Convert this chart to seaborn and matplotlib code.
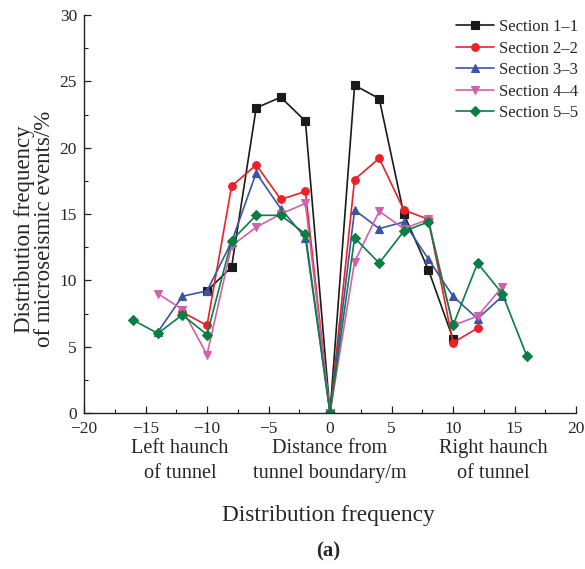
import matplotlib
matplotlib.use("Agg")
import matplotlib.pyplot as plt
import seaborn as sns
import pandas as pd
import numpy as np
from matplotlib.ticker import MultipleLocator

sns.set_style("ticks")
plt.rcParams['font.family'] = ['Liberation Serif', 'DejaVu Serif']

sections = ["Section 1\u20131", "Section 2\u20132", "Section 3\u20133", "Section 4\u20134", "Section 5\u20135"]

x1 = [-10, -8, -6, -4, -2, 0, 2, 4, 6, 8, 10]
y1 = [9.2, 11.0, 23.0, 23.8, 22.0, 0, 24.7, 23.7, 15.0, 10.8, 5.6]

x2 = [-12, -10, -8, -6, -4, -2, 0, 2, 4, 6, 8, 10, 12]
y2 = [7.6, 6.6, 17.1, 18.7, 16.1, 16.7, 0, 17.6, 19.2, 15.3, 14.6, 5.3, 6.4]

x3 = [-14, -12, -10, -8, -6, -4, -2, 0, 2, 4, 6, 8, 10, 12, 14]
y3 = [6.1, 8.8, 9.2, 12.9, 18.1, 15.4, 13.2, 0, 15.3, 13.9, 14.4, 11.6, 8.8, 7.1, 8.8]

x4 = [-14, -12, -10, -8, -6, -4, -2, 0, 2, 4, 6, 8, 10, 12, 14]
y4 = [9.0, 7.8, 4.4, 12.6, 14.0, 15.0, 15.8, 0, 11.4, 15.2, 13.9, 14.6, 6.6, 7.3, 9.5]

x5 = [-16, -14, -12, -10, -8, -6, -4, -2, 0, 2, 4, 6, 8, 10, 12, 14, 16]
y5 = [7.0, 6.0, 7.4, 5.9, 13.0, 14.9, 14.9, 13.5, 0, 13.2, 11.3, 13.7, 14.4, 6.6, 11.3, 9.0, 4.3]

xs = [x1, x2, x3, x4, x5]
ys = [y1, y2, y3, y4, y5]

xticks = [-20, -15, -10, -5, 0, 5, 10, 15, 20]
yticks = [0, 5, 10, 15, 20, 25, 30]

frames = []
for name, xv, yv in zip(sections, xs, ys):
    frames.append(pd.DataFrame({"x": xv, "y": yv, "section": name}))
df = pd.concat(frames, ignore_index=True)

colors = ["#1a1a1a", "#ec2027", "#3b55a5", "#d45fab", "#0a7f42"]
markers = ["s", "o", "^", "v", "D"]
palette = dict(zip(sections, colors))
mdict = dict(zip(sections, markers))

fig = plt.figure(figsize=(5.85, 5.69), dpi=100)
ax = fig.add_axes([84/585, 1-413/569, 492/585, 398/569])

sns.lineplot(data=df, x="x", y="y", hue="section", style="section",
             palette=palette, markers=mdict, dashes=False, sort=False,
             estimator=None, linewidth=1.2, markersize=5.5,
             markeredgewidth=0.8, ax=ax)
for line in ax.lines:
    line.set_markeredgecolor(line.get_color())

ax.set_xlim(-20, 20)
ax.set_ylim(0, 30)
ax.set_xticks(xticks)
ax.set_yticks(yticks)
ax.set_xticklabels([str(t).replace('-', '\u2212') for t in xticks])
ax.set_yticklabels([str(t) for t in yticks])
ax.xaxis.set_minor_locator(MultipleLocator(2.5))
ax.yaxis.set_minor_locator(MultipleLocator(2.5))
ax.tick_params(which='both', direction='in', labelsize=12.5, color='#222222')
ax.tick_params(which='major', length=5, width=0.9)
ax.tick_params(which='minor', length=3, width=0.8)
ax.tick_params(axis='x', pad=6)
ax.tick_params(axis='y', pad=5)
for s in ['top', 'right']:
    ax.spines[s].set_visible(False)
for s in ['left', 'bottom']:
    ax.spines[s].set_linewidth(1.0)
    ax.spines[s].set_color('#222222')

ax.set_xlabel("")
ax.set_ylabel("Distribution frequency\nof microseismic events/%", fontsize=16.5,
              linespacing=0.92)
ax.yaxis.label.set_va('center')
ax.yaxis.set_label_coords(-0.1006, 0.462)

leg = ax.legend(loc='upper right', bbox_to_anchor=(1.012, 0.998), frameon=False,
                fontsize=12, handlelength=2.3, handletextpad=0.3,
                labelspacing=0.33, borderaxespad=0.0, borderpad=0.2)

fs = 14.6
ls = 1.4
fig.text(180/585, 1-461/569, "Left haunch\nof tunnel", ha='center', va='center',
         fontsize=fs, linespacing=ls)
fig.text(330/585, 1-461/569, "Distance from\ntunnel boundary/m", ha='center', va='center',
         fontsize=fs, linespacing=ls)
fig.text(493/585, 1-461/569, "Right haunch\nof tunnel", ha='center', va='center',
         fontsize=fs, linespacing=ls)
fig.text(328/585, 1-516/569, "Distribution frequency", ha='center', va='center',
         fontsize=16.8)
fig.text(328/585, 1-551/569, "(a)", ha='center', va='center',
         fontsize=15, fontweight='bold')

fig.savefig("out.png", dpi=100)
